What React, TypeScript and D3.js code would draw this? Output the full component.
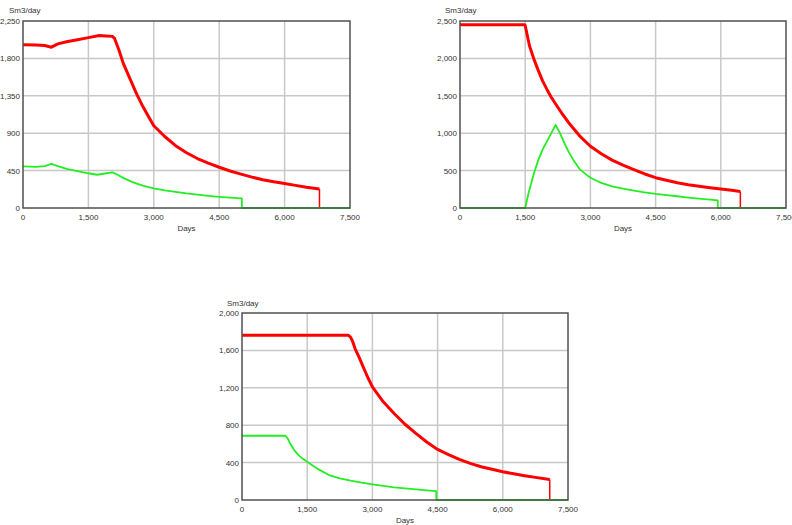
import React from "react";
import * as d3 from "d3";

// ---------- data ----------
const xTicks = [0, 1500, 3000, 4500, 6000, 7500];

const c1YTicks = [0, 450, 900, 1350, 1800, 2250];
const c1RedDays = [0, 300, 500, 650, 800, 1000, 1250, 1500, 1750, 1900, 2050, 2100, 2200, 2300, 2400, 2500, 2600, 2750, 2900, 3000, 3250, 3500, 3750, 4000, 4250, 4500, 4750, 5000, 5250, 5500, 5750, 6000, 6250, 6500, 6800, 6800, 7500];
const c1RedVals = [1965, 1960, 1955, 1935, 1975, 2000, 2025, 2050, 2075, 2070, 2065, 2040, 1900, 1740, 1620, 1500, 1380, 1220, 1080, 990, 860, 750, 665, 595, 540, 490, 445, 408, 372, 340, 315, 295, 272, 250, 228, 0, 0];
const c1GreenDays = [0, 300, 500, 650, 800, 1000, 1250, 1500, 1700, 1850, 2000, 2050, 2150, 2250, 2375, 2500, 2625, 2750, 2875, 3000, 3250, 3500, 3750, 4000, 4250, 4500, 4750, 5000, 5020, 5020, 7500];
const c1GreenVals = [500, 495, 505, 530, 505, 470, 445, 418, 400, 412, 425, 430, 405, 375, 345, 315, 290, 268, 250, 235, 212, 193, 175, 160, 147, 135, 125, 117, 115, 0, 0];

const c2YTicks = [0, 500, 1000, 1500, 2000, 2500];
const c2RedDays = [0, 500, 1000, 1490, 1500, 1550, 1600, 1700, 1800, 1900, 2000, 2100, 2200, 2350, 2500, 2750, 3000, 3250, 3500, 3750, 4000, 4250, 4500, 4750, 5000, 5250, 5500, 5750, 6000, 6250, 6450, 6450, 7500];
const c2RedVals = [2450, 2450, 2450, 2450, 2440, 2300, 2165, 1990, 1840, 1700, 1585, 1480, 1390, 1260, 1140, 965, 825, 725, 640, 572, 513, 455, 405, 370, 337, 312, 292, 272, 255, 238, 222, 0, 0];
const c2GreenDays = [0, 1500, 1550, 1600, 1700, 1800, 1900, 2000, 2100, 2200, 2300, 2400, 2500, 2600, 2750, 2900, 3000, 3250, 3500, 3750, 4000, 4250, 4500, 4750, 5000, 5250, 5500, 5750, 5930, 5930, 7500];
const c2GreenVals = [0, 0, 130, 250, 460, 640, 780, 890, 1000, 1110, 1000, 870, 750, 650, 520, 450, 405, 335, 290, 258, 232, 208, 188, 172, 157, 140, 125, 112, 102, 0, 0];

const c3YTicks = [0, 400, 800, 1200, 1600, 2000];
const c3RedDays = [0, 500, 1000, 1500, 2000, 2450, 2500, 2550, 2600, 2700, 2800, 2900, 3000, 3250, 3500, 3750, 4000, 4250, 4500, 4750, 5000, 5250, 5500, 5750, 6000, 6250, 6500, 6750, 7080, 7080, 7500];
const c3RedVals = [1762, 1762, 1762, 1762, 1762, 1762, 1740, 1690, 1620, 1520, 1410, 1305, 1210, 1050, 925, 810, 712, 620, 541, 485, 434, 392, 356, 328, 302, 280, 260, 242, 220, 0, 0];
const c3GreenDays = [0, 500, 1000, 1050, 1100, 1200, 1300, 1400, 1500, 1750, 2000, 2250, 2500, 2750, 3000, 3250, 3500, 3750, 4000, 4250, 4470, 4470, 7500];
const c3GreenVals = [687, 687, 687, 660, 610, 534, 480, 440, 409, 330, 267, 232, 206, 185, 167, 150, 135, 124, 114, 104, 96, 0, 0];

// ---------- layout ----------
type Cfg = {
  left: number; right: number; top: number; bottom: number;
  yMax: number; yTicks: number[];
  red: [number[], number[]]; green: [number[], number[]];
  unitX: number; unitY: number;
};

const charts: Cfg[] = [
  { left: 23, right: 350, top: 21, bottom: 208, yMax: 2250, yTicks: c1YTicks,
    red: [c1RedDays, c1RedVals], green: [c1GreenDays, c1GreenVals], unitX: 9, unitY: 13 },
  { left: 460, right: 786, top: 21, bottom: 208, yMax: 2500, yTicks: c2YTicks,
    red: [c2RedDays, c2RedVals], green: [c2GreenDays, c2GreenVals], unitX: 445, unitY: 13 },
  { left: 242, right: 568, top: 313, bottom: 500, yMax: 2000, yTicks: c3YTicks,
    red: [c3RedDays, c3RedVals], green: [c3GreenDays, c3GreenVals], unitX: 227, unitY: 306 },
];

const fmt = d3.format(",");
const FONT = "Liberation Sans, Arial, sans-serif";

function Chart({ c }: { c: Cfg }) {
  const x = d3.scaleLinear().domain([0, 7500]).range([c.left, c.right]);
  const y = d3.scaleLinear().domain([0, c.yMax]).range([c.bottom, c.top]);
  const mk = (d: number[], v: number[]) =>
    d3.line<number>().x((_, i) => x(d[i])).y((_, i) => y(v[i])).curve(d3.curveLinear)(v) || "";
  // thick noisy-looking band up to the last non-zero point, thin line for the drop and zero tail
  const n = c.red[1].length;
  const lastNz = n - 3;
  return (
    <g>
      {xTicks.slice(1, -1).map((t) => (
        <line key={"vx" + t} x1={x(t)} x2={x(t)} y1={c.top} y2={c.bottom} stroke="#c8c8c8" strokeWidth={1.5} />
      ))}
      {c.yTicks.slice(1, -1).map((t) => (
        <line key={"hy" + t} x1={c.left} x2={c.right} y1={y(t)} y2={y(t)} stroke="#c8c8c8" strokeWidth={1.5} />
      ))}
      <path d={mk(c.red[0].slice(0, lastNz + 1), c.red[1].slice(0, lastNz + 1))} fill="none" stroke="#ff0000" strokeWidth={3} strokeLinejoin="round" />
      <path d={mk(c.red[0].slice(lastNz), c.red[1].slice(lastNz))} fill="none" stroke="#ff0000" strokeWidth={1.5} />
      <path d={mk(c.green[0], c.green[1])} fill="none" stroke="#22ee22" strokeWidth={1.8} strokeLinejoin="round" />
      <rect x={c.left} y={c.top} width={c.right - c.left} height={c.bottom - c.top} fill="none" stroke="#505050" strokeWidth={1.5} />
      {xTicks.map((t) => (
        <text key={"xt" + t} x={x(t)} y={c.bottom + 12} textAnchor="middle" fontSize={8} fill="#333" fontFamily={FONT}>
          {fmt(t)}
        </text>
      ))}
      {c.yTicks.map((t) => (
        <text key={"yt" + t} x={c.left - 3} y={y(t) + 3} textAnchor="end" fontSize={8} fill="#333" fontFamily={FONT}>
          {fmt(t)}
        </text>
      ))}
      <text x={c.unitX} y={c.unitY} fontSize={8} fill="#333" fontFamily={FONT}>Sm3/day</text>
      <text x={(c.left + c.right) / 2} y={c.bottom + 23} textAnchor="middle" fontSize={8} fill="#333" fontFamily={FONT}>Days</text>
    </g>
  );
}

export default function App() {
  return (
    <div style={{ position: "fixed", left: 0, top: 0 }}>
      <svg width={792} height={525} style={{ display: "block", background: "#fff" }}>
        {charts.map((c, i) => (
          <Chart key={i} c={c} />
        ))}
      </svg>
    </div>
  );
}
